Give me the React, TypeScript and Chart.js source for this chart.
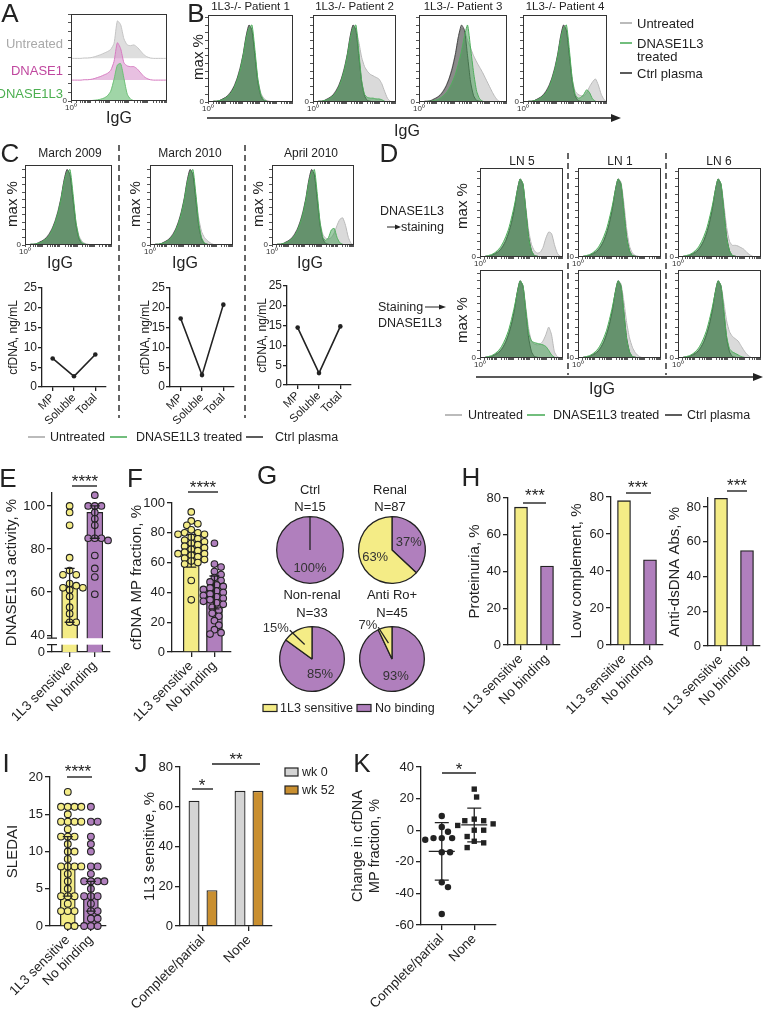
import React, { useEffect, useRef } from "react";
import { Chart, registerables } from "chart.js";
Chart.register(...registerables);

const FONT = "'Liberation Sans', Arial, Helvetica, sans-serif";
Chart.defaults.font.family = FONT;
Chart.defaults.color = "#222";

// ---------------- DATA ----------------
const igBins = [0,1,2,3,4,5,6,7,8,9,10,11,12,13,14,15,16,17,18,19,20,21,22,23,24,25,26,27,28,29];
const histYTicks = [0,10,20,30,40,50,60,70,80,90,100,110];

// Panel A ridges
const untreatedA = [0,0,0,0,1,1,2,4,7,10,14,18,24,40,100,90,52,36,34,36,30,20,10,4,1,0,0,0,0,0];
const dnase1A    = [0,0,0,0,1,1,2,4,7,10,14,18,26,50,100,84,46,38,36,36,30,20,10,4,1,0,0,0,0,0];
const dnase1l3A  = [0,0,0,0,0,0,1,2,3,5,8,14,26,58,96,100,60,18,5,1,0,0,0,0,0,0,0,0,0,0];

// Shared histogram shapes
const ctrlHist    = [0,0,1,1,2,4,6,9,14,21,31,44,62,85,100,93,60,26,8,2,1,0,0,0,0,0,0,0,0,0];
const treatedHist = [0,0,1,1,2,3,5,8,12,19,29,42,60,82,96,100,68,30,10,3,1,0,0,0,0,0,0,0,0,0];
const untreatedP1 = [0,0,1,1,2,4,6,10,15,22,32,46,63,86,100,92,62,30,12,5,2,1,0,0,0,0,0,0,0,0];
// Panel B
const untreatedP2 = [0,0,1,1,2,4,6,10,15,22,32,46,63,86,100,94,78,58,46,40,36,34,32,30,24,14,5,1,0,0];
const treatedP2   = [0,0,1,1,2,3,5,8,12,19,29,42,60,82,96,100,66,28,10,6,5,5,4,4,3,1,0,0,0,0];
const untreatedP3 = [0,0,1,1,2,4,6,10,15,22,32,46,63,85,96,92,80,70,60,52,45,38,30,22,14,7,2,0,0,0];
const treatedP3   = [0,0,0,1,1,2,3,5,8,12,18,26,36,50,66,86,100,70,38,14,4,1,0,0,0,0,0,0,0,0];
const untreatedP4 = [0,0,1,1,2,4,6,10,15,22,32,46,63,86,100,92,62,30,14,10,8,8,12,20,26,30,22,10,3,0];
const treatedP4   = [0,0,1,1,2,3,5,8,12,19,29,42,60,82,96,100,68,30,10,5,6,10,16,12,4,1,0,0,0,0];
// Panel C
const untreatedC2 = [0,0,1,1,2,4,6,10,15,22,32,46,63,86,100,93,66,36,18,10,6,3,1,0,0,0,0,0,0,0];
const untreatedC3 = [0,0,1,1,2,4,6,10,15,22,32,46,63,86,100,92,62,30,14,9,8,10,16,26,34,36,26,10,2,0];
const treatedC3   = [0,0,1,1,2,3,5,8,12,19,29,42,60,82,96,100,68,30,10,6,10,20,22,10,3,1,0,0,0,0];
// Panel D
const treatedD    = [0,0,1,2,3,5,8,12,18,26,36,50,66,84,100,94,60,24,8,2,1,0,0,0,0,0,0,0,0,0];
const untreatedD1 = [0,0,1,1,2,3,5,8,13,20,30,43,60,84,100,94,64,34,16,8,5,6,12,24,32,30,16,5,1,0];
const untreatedD2 = [0,0,1,1,2,3,5,8,13,20,30,43,60,84,100,96,70,36,14,5,2,1,0,0,0,0,0,0,0,0];
const untreatedD3 = [0,0,1,1,2,3,5,8,13,20,30,43,60,84,100,94,68,38,20,15,15,14,12,10,6,3,1,0,0,0];
const untreatedD4 = [0,0,1,1,2,3,5,8,13,20,30,43,60,84,100,94,66,38,22,18,17,18,22,30,40,30,8,2,0,0];
const treatedD4   = [0,0,1,2,3,5,8,12,18,26,36,50,66,84,100,94,62,32,22,20,19,18,17,15,10,4,1,0,0,0];
const untreatedD5 = [0,0,1,1,2,3,5,8,13,20,30,43,60,84,100,96,74,46,26,14,7,3,1,0,0,0,0,0,0,0];
const untreatedD6 = [0,0,1,1,2,3,5,8,13,20,30,43,60,84,100,94,72,48,34,28,25,22,16,10,5,2,0,0,0,0];
const treatedD6   = [0,0,1,2,3,5,8,12,18,26,36,50,66,84,100,94,62,28,12,8,6,4,2,1,0,0,0,0,0,0];

// Panel C line charts
const cfdnaCats = ["MP", "Soluble", "Total"];
const cfdnaMar2009 = [7.2, 2.7, 8.2];
const cfdnaMar2010 = [17.3, 3.0, 20.8];
const cfdnaApr2010 = [14.5, 3.0, 14.8];
const cfdnaTicks = [0, 5, 10, 15, 20, 25];

// Groups
const groupCats = ["1L3 sensitive", "No binding"];
const responseCats = ["Complete/partial", "None"];

// Panel E
const eSens = [100, 97, 91, 76, 70, 68, 68, 64, 63, 62, 62, 61, 58, 53, 50, 46, 46];
const eNoBind = [105, 100, 100, 100, 97, 94, 91, 85, 85, 85, 84, 77, 71, 67, 59];
const eBar = [63, 97];
const eErrLo = [46, 85];
const eErrHi = [71, 100];
const eZero = 32.2;
const eTicks = [eZero, 40, 60, 80, 100];

// Panel F
const fSens = [94, 88, 86, 85, 82, 80, 80, 79, 79, 77, 76, 75, 74, 73, 72, 71, 70, 69, 68, 67, 66, 66, 65, 64, 63, 62, 61, 60, 59, 48, 35];
const fNoBind = [73, 59, 57, 54, 52, 50, 48, 47, 45, 44, 43, 42, 41, 40, 39, 38, 37, 36, 35, 34, 33, 32, 30, 28, 26, 24, 21, 18, 15, 13, 12];
const fBar = [67, 40];
const fErrLo = [57, 29];
const fErrHi = [79, 51];
const pctTicks = [0, 20, 40, 60, 80, 100];

// Panel G pies: [No binding, 1L3 sensitive]
const gCtrl = [100, 0];
const gRenal = [37, 63];
const gNonRenal = [85, 15];
const gAntiRo = [93, 7];

// Panel H
const hProteinuria = [75, 43];
const hLowComplement = [78, 46];
const hAntiDsDNA = [85, 55];
const hTicks = [0, 20, 40, 60, 80];

// Panel I
const iSens = [18, 16, 16, 16, 16, 15, 14, 14, 14, 14, 13, 12, 12, 12, 11, 10, 10, 9, 8, 8, 8, 8, 7, 6, 5, 4, 4, 4, 3, 2, 2, 2, 0, 0];
const iNoBind = [16, 14, 14, 12, 11, 10, 8, 8, 7, 6, 6, 6, 6, 5, 4, 4, 4, 3, 2, 2, 1, 1, 0, 0, 0];
const iBar = [8, 4];
const iErrLo = [4, 2];
const iErrHi = [12, 6];
const iTicks = [0, 5, 10, 15, 20];

// Panel J
const jWk0 = [63, 68];
const jWk52 = [18, 68];

// Panel K
const kCompletePartial = [9, 2, -1, -5, -5, -5, -6, -14, -14, -33, -36, -53];
const kNone = [26, 21, 7, 6, 6, 4, 3, 0, 0, -4, -7, -8, -11];
const kTicks = [-60, -40, -20, 0, 20, 40];

// ---------------- STYLE ----------------
const INK = "#222";
const YEL = "#f4ec86";
const PUR = "#b07fbd";
const GREY_BAR = "#d4d4d4";
const ORANGE = "#c98f30";
const GREEN_LINE = "#4fae5c";

Chart.defaults.plugins.legend.display = false;
Chart.defaults.plugins.tooltip.enabled = false;

const DECADE = 5.8;
const logTicks: number[] = [];
for (let d = 0; d < 5; d++) for (let k = 1; k < 10; k++) {
  const v = (d + Math.log10(k)) * DECADE;
  if (v <= 29) logTicks.push(v);
}

const framePlugin = {
  id: "frame",
  afterDraw(chart: any) {
    const { ctx, chartArea: a } = chart;
    ctx.save();
    ctx.strokeStyle = "#333";
    ctx.lineWidth = 1;
    ctx.strokeRect(a.left + 0.5, a.top + 0.5, a.right - a.left - 1, a.bottom - a.top - 1);
    ctx.restore();
  },
};

function errPlugin(items: any[]) {
  return {
    id: "errbars",
    afterDatasetsDraw(chart: any) {
      const { ctx } = chart;
      const x = chart.scales.x, y = chart.scales.y;
      ctx.save();
      ctx.strokeStyle = INK;
      ctx.lineWidth = 1.3;
      items.forEach((it) => {
        const px = x.getPixelForValue(it.x);
        const lo = y.getPixelForValue(it.lo), hi = y.getPixelForValue(it.hi);
        ctx.beginPath();
        ctx.moveTo(px, lo); ctx.lineTo(px, hi);
        ctx.moveTo(px - it.cap / 2, lo); ctx.lineTo(px + it.cap / 2, lo);
        ctx.moveTo(px - it.cap / 2, hi); ctx.lineTo(px + it.cap / 2, hi);
        if (it.mid != null) {
          const m = y.getPixelForValue(it.mid);
          ctx.moveTo(px - it.midW / 2, m); ctx.lineTo(px + it.midW / 2, m);
        }
        ctx.stroke();
      });
      ctx.restore();
    },
  };
}

function breakPlugin(lo: number, hi: number) {
  return {
    id: "axisBreak",
    afterDraw(chart: any) {
      const { ctx, chartArea: a } = chart;
      const y = chart.scales.y;
      const y1 = y.getPixelForValue(hi), y2 = y.getPixelForValue(lo);
      ctx.save();
      ctx.fillStyle = "#fff";
      ctx.fillRect(a.left - 4, y1, a.right - a.left + 4, y2 - y1);
      ctx.strokeStyle = INK;
      ctx.lineWidth = 1.3;
      ctx.beginPath();
      ctx.moveTo(a.left - 5, y1); ctx.lineTo(a.left + 5, y1);
      ctx.moveTo(a.left - 5, y2); ctx.lineTo(a.left + 5, y2);
      ctx.stroke();
      ctx.restore();
    },
  };
}

const pieLabelPlugin = {
  id: "pieLabels",
  afterDatasetsDraw(chart: any) {
    const { ctx } = chart;
    const meta = chart.getDatasetMeta(0);
    const vals = chart.data.datasets[0].data;
    ctx.save();
    ctx.font = `13px ${FONT}`;
    ctx.fillStyle = "#333";
    ctx.strokeStyle = INK;
    ctx.lineWidth = 1.3;
    ctx.textBaseline = "middle";
    meta.data.forEach((arc: any, i: number) => {
      const v = vals[i];
      if (!v) return;
      const p = arc.getProps(["x", "y", "startAngle", "endAngle", "outerRadius"], true);
      const mid = (p.startAngle + p.endAngle) / 2;
      const r = p.outerRadius;
      const c = Math.cos(mid), s = Math.sin(mid);
      if (v >= 20) {
        ctx.textAlign = "center";
        ctx.fillText(v + "%", p.x + c * r * 0.55, p.y + s * r * 0.55);
      } else {
        const sx = p.x + c * r * 0.5, sy = p.y + s * r * 0.5;
        const ex = p.x + c * r * 1.1 - 6, ey = p.y + s * r * 1.1 + 3;
        ctx.beginPath(); ctx.moveTo(sx, sy); ctx.lineTo(ex, ey); ctx.stroke();
        ctx.textAlign = "right";
        ctx.fillText(v + "%", ex - 1, ey - 2);
      }
    });
    ctx.restore();
  },
};

// 2-D beeswarm: horizontal offsets derived from the values so markers don't pile up
function swarm(vals: number[], center: number, pxX: number, pxY: number, diam: number, overlap = 0.8) {
  const order = vals.map((_, i) => i).sort((a, b) => vals[b] - vals[a]);
  const placed: { px: number; py: number }[] = [];
  const out: any[] = new Array(vals.length);
  const step = diam * 0.3;
  const minD = diam * overlap;
  for (const i of order) {
    const py = vals[i] * pxY;
    let chosen = 0;
    for (let k = 0; k < 60; k++) {
      const c = k === 0 ? 0 : (k % 2 === 1 ? 1 : -1) * Math.ceil(k / 2) * step;
      const ok = placed.every((p) => (p.px - c) ** 2 + (p.py - py) ** 2 >= minD * minD);
      if (ok) { chosen = c; break; }
    }
    placed.push({ px: chosen, py });
    out[i] = { x: center + chosen / pxX, y: vals[i] };
  }
  return out;
}

function mean(a: number[]) { return a.reduce((s, v) => s + v, 0) / a.length; }
function sd(a: number[]) { const m = mean(a); return Math.sqrt(a.reduce((s, v) => s + (v - m) ** 2, 0) / (a.length - 1)); }

// ---------------- CONFIG BUILDERS ----------------
const xy = (arr: number[], scale = 1, off = 0) => arr.map((v, i) => ({ x: igBins[i], y: off + v * scale }));

function histScales(ymax: number) {
  return {
    x: {
      type: "linear", min: 0, max: 29, offset: false,
      afterBuildTicks: (s: any) => { s.ticks = logTicks.map((v) => ({ value: v })); },
      ticks: { autoSkip: false, maxRotation: 0, minRotation: 0, padding: 0, font: { size: 8 }, color: "#333",
        callback: (v: number) => (v === 0 ? "10⁰" : "") },
      grid: { drawOnChartArea: false, drawTicks: true, tickLength: 2, color: "#555" },
      border: { display: false },
    },
    y: {
      min: 0, max: ymax,
      afterBuildTicks: (s: any) => { s.ticks = histYTicks.map((v) => ({ value: v })); },
      ticks: { autoSkip: false, padding: 1, font: { size: 8 }, color: "#333", callback: (v: number) => (v === 0 ? "0" : "") },
      grid: { drawOnChartArea: false, drawTicks: true, tickLength: 3, color: "#555" },
      border: { display: false },
    },
  };
}

const HS = {
  un: { border: "#b9b9b9", fill: "rgba(212,212,212,0.85)", order: 2 },
  ct: { border: "#4a4a4a", fill: "rgba(75,75,75,0.55)", order: 1 },
  tr: { border: GREEN_LINE, fill: "rgba(63,154,79,0.5)", order: 0 },
};

function histCfg(un: number[], tr: number[], ct: number[], ymax: number) {
  const ds = (arr: number[], s: any) => ({
    data: xy(arr), borderColor: s.border, backgroundColor: s.fill, borderWidth: 1,
    fill: "origin", pointRadius: 0, tension: 0.2, order: s.order,
  });
  return {
    type: "line",
    data: { datasets: [ds(un, HS.un), ds(ct, HS.ct), ds(tr, HS.tr)] },
    options: { scales: histScales(ymax) },
    plugins: [framePlugin],
  };
}

function aCfg() {
  const ridge = (arr: number[], off: number, border: string, fill: string, order: number) => ({
    data: xy(arr, 0.43, off), borderColor: border, backgroundColor: fill, borderWidth: 1,
    fill: { value: off }, pointRadius: 0, tension: 0.2, order,
  });
  return {
    type: "line",
    data: {
      datasets: [
        ridge(dnase1l3A, 0, "#6cbf75", "rgba(120,195,130,0.7)", 0),
        ridge(dnase1A, 24, "#d67ac0", "rgba(214,140,200,0.55)", 1),
        ridge(untreatedA, 49, "#c4c4c4", "rgba(218,218,218,0.9)", 2),
      ],
    },
    options: { scales: histScales(100) },
    plugins: [framePlugin],
  };
}

function lineCfg(vals: number[]) {
  return {
    type: "line",
    data: { labels: cfdnaCats, datasets: [{ data: vals, borderColor: INK, borderWidth: 1.6, pointRadius: 2.3, pointBackgroundColor: INK, pointBorderWidth: 0, tension: 0 }] },
    options: {
      scales: {
        x: {
          type: "category", offset: true,
          ticks: { autoSkip: false, minRotation: 45, maxRotation: 45, font: { size: 11.5 }, color: INK, padding: 0 },
          grid: { offset: false, drawOnChartArea: false, drawTicks: true, tickLength: 4, color: INK, lineWidth: 1.3 },
          border: { display: true, color: INK, width: 1.3 },
        },
        y: {
          min: 0, max: 25,
          afterBuildTicks: (s: any) => { s.ticks = cfdnaTicks.map((v) => ({ value: v })); },
          ticks: { autoSkip: false, font: { size: 12 }, color: INK, padding: 1 },
          grid: { drawOnChartArea: false, drawTicks: true, tickLength: 4, color: INK, lineWidth: 1.3 },
          border: { display: true, color: INK, width: 1.3 },
          title: { display: true, text: "cfDNA, ng/mL", font: { size: 12, lineHeight: 1.2 }, color: INK, padding: { top: 0, bottom: 0 } },
        },
      },
    },
  };
}

function yAxis(min: number, max: number, ticks: number[], title: any, tsize = 15, cb?: any) {
  const t: any = { autoSkip: false, font: { size: 13 }, color: INK, padding: 2 };
  if (cb) t.callback = cb;
  return {
    type: "linear", min, max,
    afterBuildTicks: (s: any) => { s.ticks = ticks.map((v) => ({ value: v })); },
    ticks: t,
    grid: { display: true, drawOnChartArea: false, drawTicks: true, tickLength: 5, color: INK, lineWidth: 1.3 },
    border: { display: true, color: INK, width: 1.3 },
    title: { display: true, text: title, font: { size: tsize, lineHeight: 1.15 }, color: INK, padding: { top: 0, bottom: 0 } },
  };
}

function xLinear(min: number, max: number, labels: string[]) {
  return {
    type: "linear", min, max, offset: false,
    afterBuildTicks: (s: any) => { s.ticks = labels.map((_, i) => ({ value: i })); },
    ticks: { autoSkip: false, minRotation: 45, maxRotation: 45, font: { size: 13.5 }, color: INK, padding: 1,
      callback: (v: number) => labels[v] ?? "" },
    grid: { offset: false, drawOnChartArea: false, drawTicks: true, tickLength: 5, color: INK, lineWidth: 1.3 },
    border: { display: true, color: INK, width: 1.3 },
  };
}

function xCat(labels: string[]) {
  return {
    type: "category", labels, offset: true,
    ticks: { autoSkip: false, minRotation: 45, maxRotation: 45, font: { size: 13.5 }, color: INK, padding: 1 },
    grid: { offset: false, drawOnChartArea: false, drawTicks: true, tickLength: 5, color: INK, lineWidth: 1.3 },
    border: { display: true, color: INK, width: 1.3 },
  };
}

function dotBarCfg(o: any) {
  return {
    type: "bar",
    data: {
      datasets: [
        { type: "bar", data: o.bar.map((v: number, i: number) => ({ x: i, y: v })), backgroundColor: [YEL, PUR], borderColor: INK, borderWidth: 1.3, barThickness: o.bw, order: 2 },
        { type: "scatter", data: swarm(o.a, 0, o.pxX, o.pxY, o.pr * 2 + 1, o.ov), pointRadius: o.pr, backgroundColor: YEL, borderColor: INK, borderWidth: 1.1, order: 1, clip: false },
        { type: "scatter", data: swarm(o.b, 1, o.pxX, o.pxY, o.pr * 2 + 1, o.ov), pointRadius: o.pr, backgroundColor: PUR, borderColor: INK, borderWidth: 1.1, order: 1, clip: false },
      ],
    },
    options: { scales: { x: xLinear(o.xmin, o.xmax, groupCats), y: o.y } },
    plugins: o.plugins,
  };
}

function hCfg(vals: number[], max: number, title: string) {
  return {
    type: "bar",
    data: { labels: groupCats, datasets: [{ data: vals, backgroundColor: [YEL, PUR], borderColor: INK, borderWidth: 1.3, barThickness: 13 }] },
    options: { scales: { x: xCat(groupCats), y: yAxis(0, max, hTicks, title) } },
  };
}

// ---------------- COMPONENTS ----------------
function ChartBox({ box, yW, xH, padL = 0, padR = 3, padT = 9, make }: any) {
  const ref = useRef<HTMLCanvasElement>(null);
  const [x0, y0, x1, y1] = box;
  const left = x0 - yW - padL, top = y0 - padT;
  const w = x1 - x0 + yW + padL + padR, h = y1 - y0 + padT + xH;
  useEffect(() => {
    const cfg = make();
    const o = cfg.options || (cfg.options = {});
    o.responsive = false; o.maintainAspectRatio = false; o.animation = false; o.devicePixelRatio = 1; o.events = [];
    o.layout = { padding: { left: padL, right: padR, top: padT, bottom: 0 } };
    o.plugins = { legend: { display: false }, tooltip: { enabled: false } };
    if (o.scales && o.scales.x) o.scales.x.afterFit = (s: any) => { s.height = xH; s.paddingLeft = 0; s.paddingRight = 0; };
    if (o.scales && o.scales.y) o.scales.y.afterFit = (s: any) => { s.width = yW; s.paddingTop = 0; s.paddingBottom = 0; };
    const chart = new Chart(ref.current as HTMLCanvasElement, cfg);
    return () => chart.destroy();
  }, []);
  return <canvas ref={ref} width={w} height={h} style={{ position: "absolute", left, top, width: w, height: h }} />;
}

function PieBox({ cx, cy, r, data }: any) {
  const ref = useRef<HTMLCanvasElement>(null);
  const P = 34;
  const size = 2 * r + 2 * P;
  useEffect(() => {
    const chart = new Chart(ref.current as HTMLCanvasElement, {
      type: "pie",
      data: { labels: ["No binding", "1L3 sensitive"], datasets: [{ data, backgroundColor: [PUR, YEL], borderColor: INK, borderWidth: 1.3, hoverOffset: 0, offset: 0 }] },
      options: {
        responsive: false, animation: false, devicePixelRatio: 1, events: [],
        layout: { padding: P },
        plugins: { legend: { display: false }, tooltip: { enabled: false } },
      },
      plugins: [pieLabelPlugin],
    } as any);
    return () => chart.destroy();
  }, []);
  return <canvas ref={ref} width={size} height={size} style={{ position: "absolute", left: cx - r - P, top: cy - r - P, width: size, height: size }} />;
}

function T({ x, y, s = 13, c = INK, a = "center", rot = 0, w = 400, children }: any) {
  const tx = a === "center" ? "-50%" : a === "right" ? "-100%" : "0";
  return (
    <div style={{ position: "absolute", left: x, top: y, fontSize: s, color: c, fontWeight: w, whiteSpace: "nowrap", lineHeight: 1,
      fontFamily: FONT, transform: `translate(${tx},-50%)${rot ? ` rotate(${rot}deg)` : ""}`, transformOrigin: a === "center" ? "50% 50%" : undefined }}>
      {children}
    </div>
  );
}

const Letter = ({ x, y, t }: any) => <T x={x} y={y} s={26}>{t}</T>;
const MaxPct = ({ x, y }: any) => <T x={x} y={y} s={15} rot={-90}>max %</T>;
const IgG = ({ x, y }: any) => <T x={x} y={y} s={16}>IgG</T>;

// ---------------- APP ----------------
export default function App() {
  const bBoxes = [[208, 15, 293, 102], [313, 15, 396, 102], [419, 15, 507, 102], [523, 15, 607, 102]];
  const bData = [
    [untreatedP1, treatedHist, ctrlHist],
    [untreatedP2, treatedP2, ctrlHist],
    [untreatedP3, treatedP3, ctrlHist],
    [untreatedP4, treatedP4, ctrlHist],
  ];
  const bTitles = ["1L3-/- Patient 1", "1L3-/- Patient 2", "1L3-/- Patient 3", "1L3-/- Patient 4"];
  const cBoxes = [[25, 165, 112, 245], [150, 165, 233, 245], [272, 165, 354, 245]];
  const cData = [
    [untreatedP1, treatedHist, ctrlHist],
    [untreatedC2, treatedHist, ctrlHist],
    [untreatedC3, treatedC3, ctrlHist],
  ];
  const dBoxes = [
    [480, 168, 563, 257], [578, 168, 661, 257], [678, 168, 761, 257],
    [480, 270, 563, 358], [578, 270, 661, 358], [678, 270, 761, 358],
  ];
  const dData = [
    [untreatedD1, treatedD, ctrlHist], [untreatedD2, treatedD, ctrlHist], [untreatedD3, treatedD, ctrlHist],
    [untreatedD4, treatedD4, ctrlHist], [untreatedD5, treatedD, ctrlHist], [untreatedD6, treatedD6, ctrlHist],
  ];

  const kCPm = mean(kCompletePartial), kCPs = sd(kCompletePartial);
  const kNm = mean(kNone), kNs = sd(kNone);

  return (
    <div style={{ position: "absolute", left: 0, top: 0, width: 763, height: 1016, background: "#fff", overflow: "hidden", fontFamily: FONT }}>
      {/* A */}
      <ChartBox box={[71, 14, 167, 101]} yW={9} xH={11} padR={1} padT={1} make={aCfg} />
      {/* B */}
      {bBoxes.map((b, i) => (
        <ChartBox key={"b" + i} box={b} yW={9} xH={11} padR={1} padT={1} make={() => histCfg(bData[i][0], bData[i][1], bData[i][2], 113)} />
      ))}
      {/* C */}
      {cBoxes.map((b, i) => (
        <ChartBox key={"c" + i} box={b} yW={9} xH={11} padR={1} padT={1} make={() => histCfg(cData[i][0], cData[i][1], cData[i][2], 106)} />
      ))}
      <ChartBox box={[42, 288, 107, 387]} yW={36} xH={40} make={() => lineCfg(cfdnaMar2009)} />
      <ChartBox box={[170, 288, 235, 387]} yW={32} xH={40} make={() => lineCfg(cfdnaMar2010)} />
      <ChartBox box={[287, 286, 352, 385]} yW={32} xH={40} make={() => lineCfg(cfdnaApr2010)} />
      {/* D */}
      {dBoxes.map((b, i) => (
        <ChartBox key={"d" + i} box={b} yW={9} xH={11} padR={1} padT={1} make={() => histCfg(dData[i][0], dData[i][1], dData[i][2], 114)} />
      ))}
      {/* E */}
      <ChartBox box={[52, 493, 112, 652]} yW={49} xH={80} make={() => dotBarCfg({
        bar: eBar, a: eSens, b: eNoBind, pxX: 26, pxY: 2.154, ov: 0.85, pr: 3.3, bw: 16, xmin: -0.7, xmax: 1.6,
        y: yAxis(eZero, 106, eTicks, "DNASE1L3 activity, %", 15, (v: number) => (v < 35 ? "0" : String(v))),
        plugins: [errPlugin([{ x: 0, lo: eErrLo[0], hi: eErrHi[0], cap: 10 }, { x: 1, lo: eErrLo[1], hi: eErrHi[1], cap: 10 }]), breakPlugin(35.6, 38.6)],
      })} />
      {/* F */}
      <ChartBox box={[172, 503, 233, 652]} yW={44} xH={80} padL={6} make={() => dotBarCfg({
        bar: fBar, a: fSens, b: fNoBind, pxX: 24, pxY: 1.49, ov: 0.75, pr: 3.3, bw: 16, xmin: -0.83, xmax: 1.71,
        y: yAxis(0, 100, pctTicks, "cfDNA MP fraction, %"),
        plugins: [errPlugin([{ x: 0, lo: fErrLo[0], hi: fErrHi[0], cap: 10 }, { x: 1, lo: fErrLo[1], hi: fErrHi[1], cap: 10 }])],
      })} />
      {/* G */}
      <PieBox cx={310} cy={550} r={34} data={gCtrl} />
      <PieBox cx={392} cy={550} r={34} data={gRenal} />
      <PieBox cx={312} cy={659} r={33} data={gNonRenal} />
      <PieBox cx={392} cy={659} r={33} data={gAntiRo} />
      {/* H */}
      <ChartBox box={[508, 498, 560, 645]} yW={42} xH={80} padL={6} make={() => hCfg(hProteinuria, 80, "Proteinuria, %")} />
      <ChartBox box={[611, 497, 663, 645]} yW={43} xH={80} padL={6} make={() => hCfg(hLowComplement, 80, "Low complement, %")} />
      <ChartBox box={[708, 498, 760, 646]} yW={42} xH={80} padL={6} make={() => hCfg(hAntiDsDNA, 85.2, "Anti-dsDNA Abs, %")} />
      {/* I */}
      <ChartBox box={[50, 777, 108, 926]} yW={46} xH={85} make={() => dotBarCfg({
        bar: iBar, a: iSens, b: iNoBind, pxX: 24, pxY: 7.45, ov: 0.75, pr: 3.4, bw: 15, xmin: -0.77, xmax: 1.65,
        y: yAxis(0, 20, iTicks, "SLEDAI"),
        plugins: [errPlugin([{ x: 0, lo: iErrLo[0], hi: iErrHi[0], cap: 10 }, { x: 1, lo: iErrLo[1], hi: iErrHi[1], cap: 10 }])],
      })} />
      {/* J */}
      <ChartBox box={[180, 767, 272, 926]} yW={39} xH={88} padL={28} make={() => ({
        type: "bar",
        data: { labels: responseCats, datasets: [
          { label: "wk 0", data: jWk0, backgroundColor: GREY_BAR, borderColor: INK, borderWidth: 1.3, categoryPercentage: 0.78, barPercentage: 0.61 },
          { label: "wk 52", data: jWk52, backgroundColor: ORANGE, borderColor: INK, borderWidth: 1.3, categoryPercentage: 0.78, barPercentage: 0.61 },
        ] },
        options: { scales: { x: xCat(responseCats), y: yAxis(0, 80, hTicks, "1L3 sensitive, %") } },
      })} />
      {/* K */}
      <ChartBox box={[421, 767, 497, 925]} yW={71} xH={88} make={() => ({
        type: "scatter",
        data: { datasets: [
          { data: swarm(kCompletePartial, 0, 33, 1.58, 7, 1.0), pointRadius: 3.2, backgroundColor: INK, borderColor: INK, borderWidth: 0, clip: false },
          { data: swarm(kNone, 1, 33, 1.58, 8, 1.0), pointRadius: 3.8, pointStyle: "rect", backgroundColor: INK, borderColor: INK, borderWidth: 0, clip: false },
        ] },
        options: { scales: { x: xLinear(-0.64, 1.67, responseCats), y: yAxis(-60, 40, kTicks, ["Change in cfDNA", "MP fraction, %"], 14.5) } },
        plugins: [errPlugin([
          { x: 0, lo: kCPm - kCPs, hi: kCPm + kCPs, mid: kCPm, cap: 14, midW: 26 },
          { x: 1, lo: kNm - kNs, hi: kNm + kNs, mid: kNm, cap: 14, midW: 26 },
        ])],
      })} />

      {/* vector annotations */}
      <svg width={763} height={1016} style={{ position: "absolute", left: 0, top: 0, pointerEvents: "none" }}>
        <g stroke={INK} strokeWidth={1.4} fill="none">
          <line x1={207} y1={118} x2={612} y2={118} />
          <line x1={476} y1={377} x2={754} y2={377} />
          <line x1={387} y1={227} x2={396} y2={227} strokeWidth={1} />
          <line x1={425} y1={307} x2={440} y2={307} strokeWidth={1} />
          <line x1={72} y1={486} x2={97} y2={486} />
          <line x1={188} y1={492} x2={218} y2={492} />
          <line x1={523} y1={503} x2={546} y2={503} />
          <line x1={626} y1={493} x2={651} y2={493} />
          <line x1={727} y1={491} x2={747} y2={491} />
          <line x1={67} y1={777} x2={92} y2={777} />
          <line x1={192} y1={789} x2={213} y2={789} />
          <line x1={212} y1={764} x2={260} y2={764} />
          <line x1={442} y1={773} x2={476} y2={773} />
        </g>
        <g fill={INK}>
          <polygon points="611,114 621,118 611,122" />
          <polygon points="753,373 763,377 753,381" />
          <polygon points="395,224.5 401,227 395,229.5" />
          <polygon points="439,304.5 446,307 439,309.5" />
        </g>
        <g stroke="#333" strokeWidth={1.5} strokeDasharray="6 4">
          <line x1={119} y1={145} x2={119} y2={418} />
          <line x1={245} y1={145} x2={245} y2={418} />
          <line x1={568} y1={153} x2={568} y2={375} />
          <line x1={666} y1={153} x2={666} y2={375} />
        </g>
        <g strokeWidth={1.6}>
          <line x1={620} y1={23} x2={632} y2={23} stroke="#aaa" />
          <line x1={620} y1={43} x2={632} y2={43} stroke={GREEN_LINE} />
          <line x1={620} y1={73} x2={632} y2={73} stroke="#333" />
          <line x1={28} y1={437} x2={45} y2={437} stroke="#aaa" />
          <line x1={110} y1={437} x2={127} y2={437} stroke={GREEN_LINE} />
          <line x1={246} y1={437} x2={263} y2={437} stroke="#333" />
          <line x1={445} y1={415} x2={462} y2={415} stroke="#aaa" />
          <line x1={527} y1={415} x2={545} y2={415} stroke={GREEN_LINE} />
          <line x1={665} y1={415} x2={682} y2={415} stroke="#333" />
        </g>
        <g stroke={INK} strokeWidth={1.2}>
          <rect x={263} y={704.5} width={14} height={7} fill={YEL} />
          <rect x={357} y={704.5} width={14} height={7} fill={PUR} />
          <rect x={285} y={768} width={13} height={8} fill={GREY_BAR} />
          <rect x={285} y={786} width={13} height={8} fill={ORANGE} />
        </g>
      </svg>

      {/* panel letters */}
      <Letter x={10} y={13} t="A" />
      <Letter x={196} y={13} t="B" />
      <Letter x={10} y={153} t="C" />
      <Letter x={389} y={153} t="D" />
      <Letter x={8} y={478} t="E" />
      <Letter x={135} y={478} t="F" />
      <Letter x={267} y={475} t="G" />
      <Letter x={471} y={477} t="H" />
      <Letter x={6} y={763} t="I" />
      <Letter x={141} y={763} t="J" />
      <Letter x={362} y={763} t="K" />

      {/* A labels */}
      <T x={63} y={43} a="right" s={13} c="#a9a9a9">Untreated</T>
      <T x={63} y={70} a="right" s={13} c="#c0479f">DNASE1</T>
      <T x={63} y={93} a="right" s={13} c="#4caf50">DNASE1L3</T>
      <IgG x={119} y={118} />

      {/* B labels */}
      {bTitles.map((t, i) => <T key={t} x={(bBoxes[i][0] + bBoxes[i][2]) / 2} y={7} s={11.5}>{t}</T>)}
      <MaxPct x={197} y={57} />
      <IgG x={407} y={131} />
      <T x={637} y={23} a="left" s={13}>Untreated</T>
      <T x={637} y={43} a="left" s={13}>DNASE1L3</T>
      <T x={637} y={56} a="left" s={13}>treated</T>
      <T x={637} y={73} a="left" s={13}>Ctrl plasma</T>

      {/* C labels */}
      <T x={70} y={153} s={12}>March 2009</T>
      <T x={190} y={153} s={12}>March 2010</T>
      <T x={311} y={153} s={12}>April 2010</T>
      <MaxPct x={11} y={204} />
      <MaxPct x={134} y={204} />
      <MaxPct x={257} y={204} />
      <IgG x={60} y={263} />
      <IgG x={185} y={263} />
      <IgG x={310} y={263} />
      <T x={50} y={437} a="left" s={12.5}>Untreated</T>
      <T x={136} y={437} a="left" s={12.5}>DNASE1L3 treated</T>
      <T x={275} y={437} a="left" s={12.5}>Ctrl plasma</T>

      {/* D labels */}
      <T x={522} y={161} s={12}>LN 5</T>
      <T x={620} y={161} s={12}>LN 1</T>
      <T x={719} y={161} s={12}>LN 6</T>
      <MaxPct x={461} y={206} />
      <MaxPct x={461} y={320} />
      <T x={444} y={211} a="right" s={12.5}>DNASE1L3</T>
      <T x={444} y={227} a="right" s={12.5}>staining</T>
      <T x={378} y={307} a="left" s={12.5}>Staining</T>
      <T x={378} y={323} a="left" s={12.5}>DNASE1L3</T>
      <IgG x={602} y={389} />
      <T x={468} y={415} a="left" s={12.5}>Untreated</T>
      <T x={553} y={415} a="left" s={12.5}>DNASE1L3 treated</T>
      <T x={687} y={415} a="left" s={12.5}>Ctrl plasma</T>

      {/* stars */}
      <T x={85} y={481} s={17}>****</T>
      <T x={203} y={487} s={17}>****</T>
      <T x={535} y={495} s={17}>***</T>
      <T x={638} y={487} s={17}>***</T>
      <T x={737} y={485} s={17}>***</T>
      <T x={78} y={771} s={17}>****</T>
      <T x={202} y={785} s={17}>*</T>
      <T x={236} y={759} s={17}>**</T>
      <T x={459} y={769} s={17}>*</T>

      {/* G labels */}
      <T x={310} y={489} s={13}>Ctrl</T>
      <T x={310} y={506} s={13}>N=15</T>
      <T x={390} y={489} s={13}>Renal</T>
      <T x={390} y={506} s={13}>N=87</T>
      <T x={312} y={594} s={13}>Non-renal</T>
      <T x={312} y={612} s={13}>N=33</T>
      <T x={392} y={594} s={13}>Anti Ro+</T>
      <T x={392} y={612} s={13}>N=45</T>
      <T x={280} y={708} a="left" s={12.5}>1L3 sensitive</T>
      <T x={375} y={708} a="left" s={12.5}>No binding</T>

      {/* J legend */}
      <T x={302} y={772} a="left" s={12.5}>wk 0</T>
      <T x={302} y={790} a="left" s={12.5}>wk 52</T>
    </div>
  );
}
